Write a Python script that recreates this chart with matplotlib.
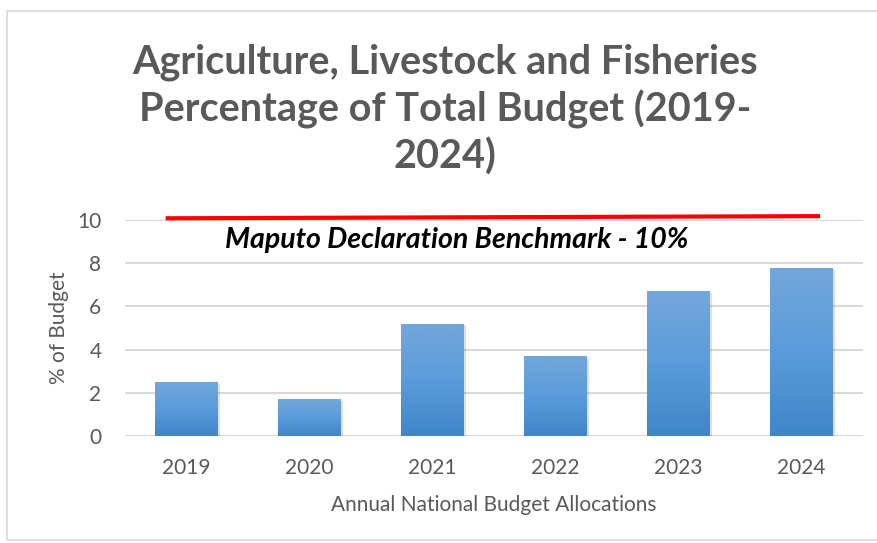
import matplotlib.pyplot as plt
import numpy as np
from matplotlib.patches import Rectangle

years = ["2019", "2020", "2021", "2022", "2023", "2024"]
share = [2.5, 1.7, 5.2, 3.7, 6.7, 7.8]
bench_x = [-0.17, 5.15]
bench_y = [10.08, 10.18]
bench_label = "Maputo Declaration Benchmark - 10%"

plt.rcParams['font.family'] = ['Lato', 'DejaVu Sans']
grey = "#595959"

fig = plt.figure(figsize=(8.78, 5.43), dpi=100)
ax = fig.add_axes([0.1424, 0.197, 0.8406, 0.3978])

# chart border
fig.patches.append(Rectangle((7/878, 3/543), 1.0, 529/543, transform=fig.transFigure,
                             fill=False, edgecolor="#D9D9D9", linewidth=1.2))

x = np.arange(len(years))
w = 0.51
# soft shadow
ax.bar(x + 0.02, share, w, bottom=-0.08, color="#000000", alpha=0.12, zorder=1)
bars = ax.bar(x, share, w, color="#5B9BD5", zorder=2)

grad = np.linspace(0, 1, 256).reshape(-1, 1)
cmap = plt.matplotlib.colors.LinearSegmentedColormap.from_list("g", ["#3F86C8", "#5A9CDB", "#74A7DB"])
for b in bars:
    im = ax.imshow(grad, extent=(b.get_x(), b.get_x() + b.get_width(), 0, b.get_height()),
                   origin="lower", cmap=cmap, aspect="auto", zorder=3)
    im.set_clip_path(b)

ax.plot(bench_x, bench_y, color="#FF0000", linewidth=3, zorder=4, clip_on=False,
        solid_capstyle="butt")
ax.text(2.2, 9.07, bench_label, fontsize=20.5, fontweight="bold", fontstyle="italic",
        color="black", ha="center", va="center", zorder=5)

ax.set_xlim(-0.5, 5.5)
ax.set_ylim(0, 10)
ax.set_yticks([0, 2, 4, 6, 8, 10])
ax.set_xticks(x)
ax.set_xticklabels(years)
ax.yaxis.grid(True, color="#D9D9D9", linewidth=1.5, zorder=0)
ax.set_axisbelow(True)
for s in ax.spines.values():
    s.set_visible(False)
ax.tick_params(length=0, labelsize=15, labelcolor=grey, pad=16)
ax.tick_params(axis="y", pad=17)

ax.set_xlabel("Annual National Budget Allocations", fontsize=15, color=grey, labelpad=12)
ax.set_ylabel("% of Budget", fontsize=15, color=grey, labelpad=6)

fig.text(0.507, 0.798, "Agriculture, Livestock and Fisheries\nPercentage of Total Budget (2019-\n2024)",
         ha="center", va="center", fontsize=28.5, fontweight="bold", color=grey, linespacing=1.28)

fig.savefig("out.png", dpi=100)
